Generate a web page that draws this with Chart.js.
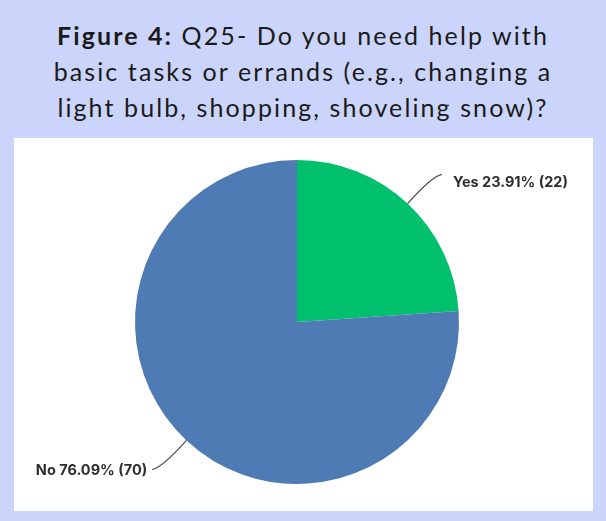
<!DOCTYPE html>
<html>
<head>
<meta charset="utf-8">
<script src="https://cdn.jsdelivr.net/npm/chart.js@4.4.1/dist/chart.umd.min.js"></script>
<style>
  html, body { margin: 0; padding: 0; }
  body { width: 606px; height: 521px; background: #cbd5fb; position: relative; overflow: hidden; }
  #title {
    position: absolute; left: 0; top: 17px; width: 606px;
    text-align: center; font-family: Lato, sans-serif; font-size: 25px;
    letter-spacing: 2.1px; line-height: 36px; color: #1a1a1a;
  }
  #panel { position: absolute; left: 14px; top: 138px; width: 579px; height: 373px; background: #fff; }
</style>
</head>
<body>
<div id="title"><b>Figure 4:</b> Q25- Do you need help with<br>basic tasks or errands (e.g., changing a<br>light bulb, shopping, shoveling snow)?</div>
<div id="panel"><canvas id="q25"></canvas></div>
<script>
const answers = ['Yes', 'No'];
const counts = [22, 70];
const percents = [23.91, 76.09];
const sliceColors = ['#00c06d', '#4f7bb5'];

// leader lines + "Label pct% (n)" text beside each slice
const calloutLabels = {
  id: 'calloutLabels',
  afterDatasetsDraw(chart) {
    const ctx = chart.ctx;
    const arcs = chart.getDatasetMeta(0).data;
    ctx.save();
    ctx.font = '700 14.5px Inter, sans-serif';
    ctx.fillStyle = '#2e2e2e';
    ctx.strokeStyle = '#555';
    ctx.lineWidth = 1.4;
    arcs.forEach((arc, i) => {
      const mid = (arc.startAngle + arc.endAngle) / 2;
      const r = arc.outerRadius;
      const cos = Math.cos(mid), sin = Math.sin(mid);
      const x0 = arc.x + cos * r, y0 = arc.y + sin * r;
      const x1 = arc.x + cos * (r + 40), y1 = arc.y + sin * (r + 40);
      const right = cos >= 0;
      const upper = y1 < arc.y;
      const x2 = x1 + (right ? 7 : -7);
      ctx.beginPath();
      ctx.moveTo(x0, y0);
      ctx.quadraticCurveTo(x1 - (right ? 3 : -3), y1 + (upper ? 2 : -2), x2, y1);
      ctx.stroke();
      ctx.textAlign = right ? 'left' : 'right';
      ctx.textBaseline = 'middle';
      const text = answers[i] + ' ' + percents[i].toFixed(2) + '% (' + counts[i] + ')';
      ctx.fillText(text, x2 + (right ? 11 : -5), y1 + (upper ? 8 : 1));
    });
    ctx.restore();
  }
};

new Chart(document.getElementById('q25'), {
  type: 'pie',
  data: {
    labels: answers,
    datasets: [{
      data: counts,
      backgroundColor: sliceColors,
      borderWidth: 0
    }]
  },
  options: {
    responsive: true,
    maintainAspectRatio: false,
    animation: false,
    layout: { padding: { top: 22, bottom: 27, left: 0, right: 13 } },
    plugins: {
      legend: { display: false },
      tooltip: { enabled: false }
    }
  },
  plugins: [calloutLabels]
});
</script>
</body>
</html>
